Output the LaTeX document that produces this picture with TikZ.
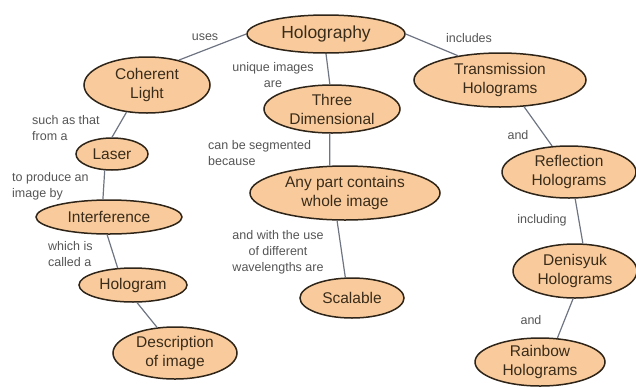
\documentclass[tikz,border=0pt]{standalone}
\usepackage{fontspec}
\setmainfont{Liberation Sans}
\usetikzlibrary{shapes.geometric}

\definecolor{conceptfill}{HTML}{F9CB9C}
\definecolor{conceptline}{HTML}{2E2418}
\definecolor{concepttext}{HTML}{3A2C1A}
\definecolor{linktext}{HTML}{555555}
\definecolor{linkline}{HTML}{6E7482}

\begin{document}
\begin{tikzpicture}[x=1pt, y=-1pt,
    concept/.style={ellipse, draw=conceptline, fill=conceptfill, line width=1.5pt,
        inner sep=0pt, align=center, text=concepttext,
        font=\fontsize{15.5}{19}\selectfont},
    linkword/.style={inner sep=0pt, text=linktext,
        font=\fontsize{12.5}{16}\selectfont},
    link/.style={draw=linkline, line width=1.2pt}
  ]% [ show background grid ]
    \useasboundingbox (0,0) rectangle (636,386);

    % concepts
    \node[concept, minimum width=158pt, minimum height=38pt,
        font=\fontsize{17.5}{21}\selectfont] (holography) at (326,34) {Holography};
    \node[concept, minimum width=126pt, minimum height=56pt] (coherent) at (147,85) {Coherent\\Light};
    \node[concept, minimum width=72pt, minimum height=32pt] (laser) at (112,154) {Laser};
    \node[concept, minimum width=146pt, minimum height=34pt] (interference) at (109,217) {Interference};
    \node[concept, minimum width=108pt, minimum height=34pt] (hologram) at (133,285) {Hologram};
    \node[concept, minimum width=124pt, minimum height=52pt] (description) at (175,353) {Description\\of image};
    \node[concept, minimum width=136pt, minimum height=48pt] (threedim) at (332,109) {Three\\Dimensional};
    \node[concept, minimum width=190pt, minimum height=54pt] (anypart) at (345,193) {Any part contains\\whole image};
    \node[concept, minimum width=104pt, minimum height=40pt] (scalable) at (352,298) {Scalable};
    \node[concept, minimum width=172pt, minimum height=54pt] (transmission) at (500,80) {Transmission\\Holograms};
    \node[concept, minimum width=134pt, minimum height=52pt] (reflection) at (569,172) {Reflection\\Holograms};
    \node[concept, minimum width=124pt, minimum height=54pt] (denisyuk) at (575,271) {Denisyuk\\Holograms};
    \node[concept, minimum width=130pt, minimum height=48pt] (rainbow) at (540,362) {Rainbow\\Holograms};

    % linking words
    \node[linkword] (uses) at (205,37) {uses};
    \node[linkword] (includes) at (469,38) {includes};
    \node[linkword, align=center] (unique) at (273,75.5) {unique images\\are};
    \node[linkword, align=left, anchor=west] (suchas) at (32,128.5) {such as that\\from a};
    \node[linkword, align=left, anchor=west] (produce) at (12,186.5) {to produce an\\image by};
    \node[linkword, align=left, anchor=west] (called) at (48,254) {which is\\called a};
    \node[linkword, align=left, anchor=west] (segmented) at (208,153) {can be segmented\\because};
    \node[linkword, align=center] (wavelengths) at (278,252) {and with the use\\of different\\wavelengths are};
    \node[linkword] (and1) at (518,135) {and};
    \node[linkword] (including) at (542,220) {including};
    \node[linkword] (and2) at (531,320) {and};

    % connectors
    \draw[link] (holography.west) -- (coherent.38);
    \draw[link] (holography.south) -- (threedim.95);
    \draw[link] (holography.east) -- (transmission.150);
    \draw[link] (coherent.233) -- (laser.north);
    \draw[link] (laser.246) -- (interference.109);
    \draw[link] (interference.264) -- (hologram.132);
    \draw[link] (hologram.283) -- (description.125);
    \draw[link] (threedim.265) -- (anypart.119);
    \draw[link] (anypart.254) -- (scalable.108);
    \draw[link] (transmission.312) -- (reflection.123);
    \draw[link] (reflection.283) -- (denisyuk.74);
    \draw[link] (denisyuk.266) -- (rainbow.54);

\end{tikzpicture}
\end{document}
